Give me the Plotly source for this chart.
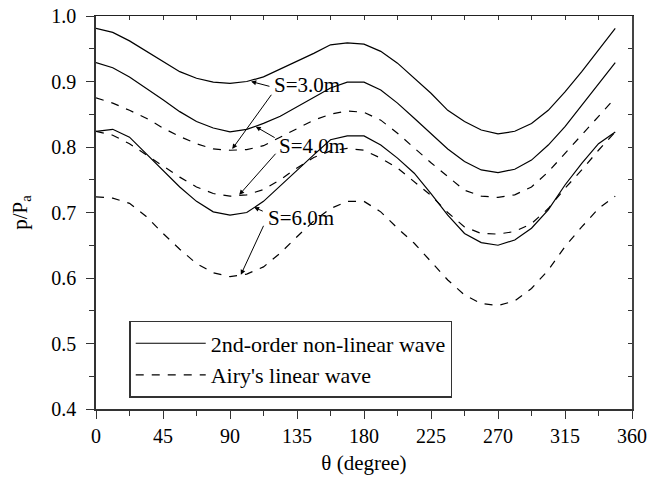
import plotly.graph_objects as go

theta = [0, 11.25, 22.5, 33.75, 45, 56.25, 67.5, 78.75, 90, 101.25, 112.5, 123.75,
         135, 146.25, 157.5, 168.75, 180, 191.25, 202.5, 213.75, 225, 236.25, 247.5,
         258.75, 270, 281.25, 292.5, 303.75, 315, 326.25, 337.5, 348.75]

s3_nonlinear = [0.981, 0.975, 0.962, 0.946, 0.930, 0.915, 0.905, 0.899, 0.897, 0.900, 0.907, 0.919,
                0.930, 0.943, 0.956, 0.959, 0.957, 0.946, 0.928, 0.905, 0.882, 0.856, 0.839,
                0.826, 0.820, 0.824, 0.836, 0.856, 0.884, 0.915, 0.948, 0.981]
s4_nonlinear = [0.929, 0.921, 0.907, 0.890, 0.872, 0.854, 0.839, 0.829, 0.823, 0.827, 0.836, 0.847,
                0.861, 0.876, 0.890, 0.899, 0.899, 0.887, 0.867, 0.844, 0.821, 0.797, 0.778,
                0.765, 0.761, 0.766, 0.780, 0.803, 0.831, 0.864, 0.897, 0.929]
s6_nonlinear = [0.824, 0.827, 0.815, 0.790, 0.765, 0.739, 0.717, 0.701, 0.696, 0.700, 0.717, 0.741,
                0.764, 0.788, 0.811, 0.817, 0.817, 0.803, 0.783, 0.760, 0.729, 0.696, 0.668,
                0.654, 0.650, 0.658, 0.676, 0.704, 0.742, 0.775, 0.805, 0.823]
s3_linear = [0.875, 0.867, 0.856, 0.844, 0.829, 0.816, 0.805, 0.797, 0.795, 0.796, 0.802, 0.815,
             0.828, 0.841, 0.850, 0.855, 0.853, 0.841, 0.821, 0.798, 0.776, 0.755, 0.734,
             0.725, 0.723, 0.727, 0.739, 0.762, 0.790, 0.818, 0.846, 0.875]
s4_linear = [0.824, 0.818, 0.805, 0.788, 0.770, 0.754, 0.739, 0.729, 0.725, 0.727, 0.735, 0.750,
             0.768, 0.784, 0.794, 0.798, 0.795, 0.783, 0.768, 0.747, 0.726, 0.700, 0.678,
             0.668, 0.667, 0.671, 0.683, 0.706, 0.737, 0.765, 0.795, 0.823]
s6_linear = [0.724, 0.722, 0.714, 0.694, 0.668, 0.644, 0.622, 0.608, 0.602, 0.606, 0.617, 0.638,
             0.663, 0.687, 0.706, 0.717, 0.717, 0.701, 0.676, 0.653, 0.625, 0.597, 0.574,
             0.561, 0.558, 0.565, 0.584, 0.612, 0.648, 0.678, 0.706, 0.725]

x_ticks = [0, 45, 90, 135, 180, 225, 270, 315, 360]
y_ticks = [0.4, 0.5, 0.6, 0.7, 0.8, 0.9, 1.0]

FONT = "Liberation Serif"
solid = dict(color="black", width=1.2)
dashed = dict(color="black", width=1.2, dash="8px,8px")

fig = go.Figure()
fig.add_trace(go.Scatter(x=theta, y=s3_nonlinear, mode="lines", line=solid,
                         name="2nd-order non-linear wave", showlegend=True))
fig.add_trace(go.Scatter(x=theta, y=s3_linear, mode="lines", line=dashed,
                         name="Airy's linear wave", showlegend=True))
fig.add_trace(go.Scatter(x=theta, y=s4_nonlinear, mode="lines", line=solid, showlegend=False))
fig.add_trace(go.Scatter(x=theta, y=s6_nonlinear, mode="lines", line=solid, showlegend=False))
fig.add_trace(go.Scatter(x=theta, y=s4_linear, mode="lines", line=dashed, showlegend=False))
fig.add_trace(go.Scatter(x=theta, y=s6_linear, mode="lines", line=dashed, showlegend=False))
# empty trace to activate mirrored (inside-tick) axes
fig.add_trace(go.Scatter(x=[], y=[], xaxis="x2", yaxis="y2", showlegend=False, hoverinfo="skip"))

tick_font = dict(family=FONT, size=20, color="black")
title_font = dict(family=FONT, size=21, color="black")

fig.update_layout(
    width=648, height=479,
    margin=dict(l=96, r=16, t=16, b=70),
    paper_bgcolor="white", plot_bgcolor="white",
    font=tick_font,
    showlegend=True,
    legend=dict(x=0.062, y=0.224, xanchor="left", yanchor="top",
                bgcolor="white", bordercolor="#333", borderwidth=1.5,
                font=dict(family=FONT, size=22, color="black"),
                tracegroupgap=0, itemwidth=70),
    xaxis=dict(range=[0, 360], tickvals=x_ticks, ticks="outside", ticklen=8, tickwidth=1.2,
               tickcolor="#333", showline=True, linecolor="#333", linewidth=1.5,
               showgrid=False, zeroline=False, tickfont=tick_font, ticklabeloverflow="allow",
               automargin=False,
               minor=dict(dtick=22.5, ticks="outside", ticklen=5, tickwidth=1.2, tickcolor="#333"),
               title=dict(text="θ (degree)", font=title_font, standoff=10)),
    yaxis=dict(range=[0.4, 1.0], tickvals=y_ticks, tickformat=".1f", ticks="outside", ticklen=8,
               tickwidth=1.2, tickcolor="#333", showline=True, linecolor="#333", linewidth=1.5,
               showgrid=False, zeroline=False, tickfont=tick_font, ticklabelstandoff=6,
               automargin=False,
               minor=dict(dtick=0.05, ticks="outside", ticklen=5, tickwidth=1.2, tickcolor="#333"),
               title=dict(text="p/P<sub>a</sub>", font=title_font, standoff=18)),
    xaxis2=dict(overlaying="x", side="top", range=[0, 360], dtick=22.5, tick0=0, ticks="inside",
                ticklen=4, tickwidth=1, tickcolor="#333", showticklabels=False, showline=True,
                linecolor="#222", linewidth=1.2, showgrid=False, zeroline=False, automargin=False),
    yaxis2=dict(overlaying="y", side="right", range=[0.4, 1.0], dtick=0.05, tick0=0.4,
                ticks="inside", ticklen=4, tickwidth=1, tickcolor="#333", showticklabels=False,
                showline=True, linecolor="#444", linewidth=1.5, showgrid=False, zeroline=False,
                automargin=False),
)

ann_font = dict(family=FONT, size=21, color="black")
arrow = dict(showarrow=True, arrowhead=2, arrowsize=1, arrowwidth=1, arrowcolor="black",
             axref="x", ayref="y", text="")
# S=3.0m
fig.add_annotation(x=118.5, y=0.895, text="S=3.0m", showarrow=False, xanchor="left", font=ann_font)
fig.add_annotation(x=104.2, y=0.900, ax=117.5, ay=0.892, **arrow)
fig.add_annotation(x=91.5, y=0.797, ax=118.5, ay=0.882, **arrow)
# S=4.0m
fig.add_annotation(x=121.5, y=0.801, text="S=4.0m", showarrow=False, xanchor="left", font=ann_font)
fig.add_annotation(x=107.3, y=0.831, ax=121, ay=0.813, **arrow)
fig.add_annotation(x=96.2, y=0.727, ax=121.5, ay=0.792, **arrow)
# S=6.0m
fig.add_annotation(x=114.5, y=0.692, text="S=6.0m", showarrow=False, xanchor="left", font=ann_font)
fig.add_annotation(x=106.2, y=0.708, ax=113, ay=0.701, **arrow)
fig.add_annotation(x=97.3, y=0.605, ax=113, ay=0.682, **arrow)

fig.write_html("out.html")
